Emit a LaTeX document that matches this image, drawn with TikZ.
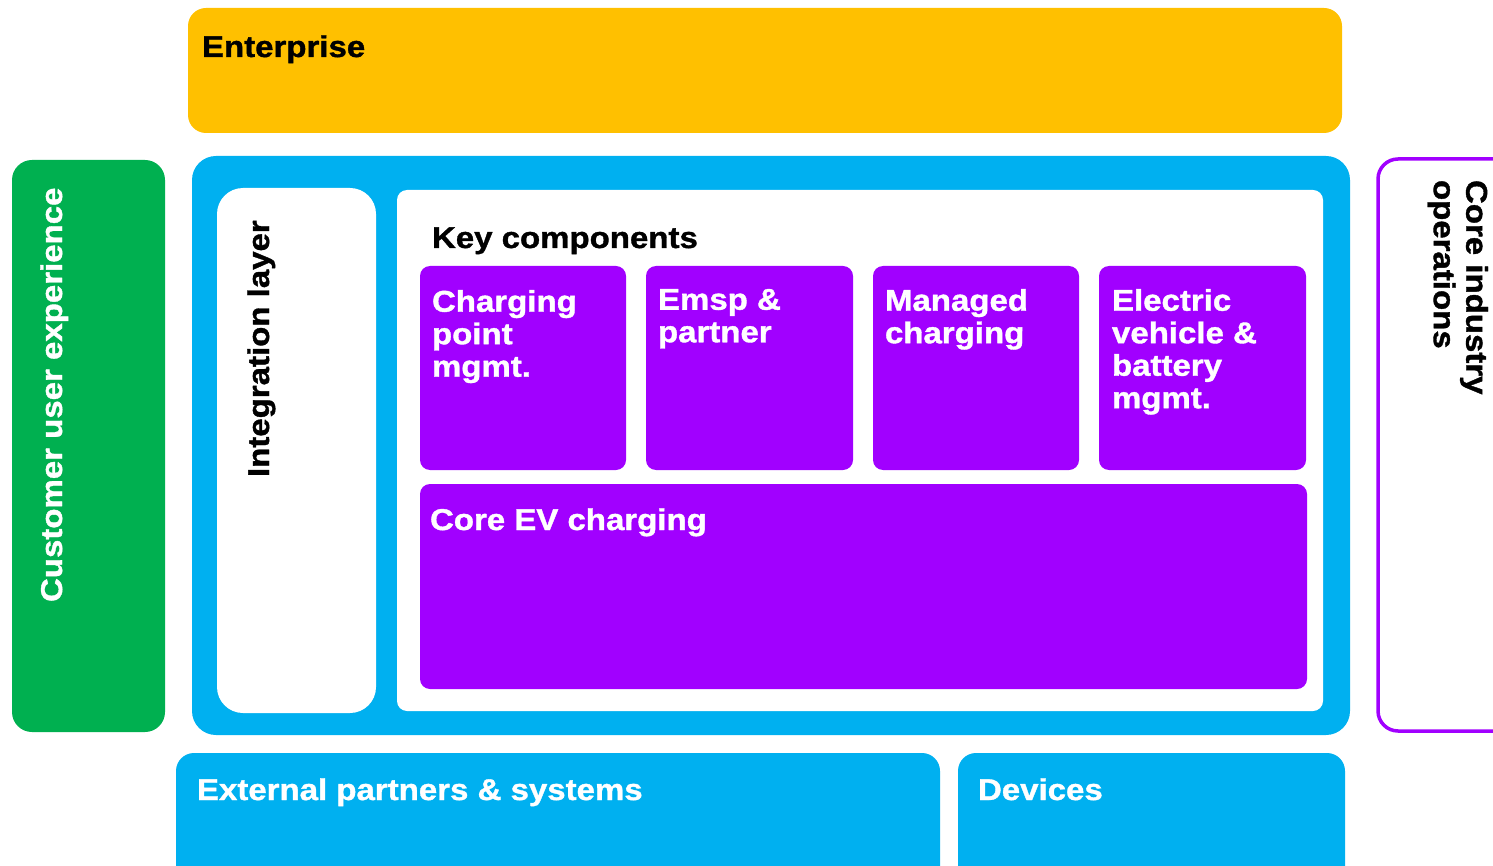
\documentclass[tikz,border=0pt]{standalone}
\usepackage{fontspec}
\setmainfont[FakeStretch=1.1, BoldFeatures={FakeBold=1.2}]{Liberation Sans}
\definecolor{entyellow}{HTML}{FFC000}
\definecolor{skyblue}{HTML}{00B0F0}
\definecolor{cxgreen}{HTML}{00B050}
\definecolor{acnpurple}{HTML}{A100FF}
\begin{document}
\begin{tikzpicture}[x=1pt,y=-1pt,
  lbl/.style={inner sep=0pt, outer sep=0pt, font=\fontsize{30}{32.5}\selectfont\bfseries, align=left},
  wlbl/.style={lbl, text=white},
  blbl/.style={lbl, text=black},
  compbox/.style={fill=acnpurple, rounded corners=10pt}]
\useasboundingbox (0,0) rectangle (1493,866);
\clip (0,0) rectangle (1493,866);
% Enterprise
\fill[entyellow, rounded corners=18pt] (188,8) rectangle (1342,133);
\node[blbl, anchor=base west] (ent) at (202,57) {Enterprise};
% Customer user experience
\fill[cxgreen, rounded corners=20pt] (12,160) rectangle (165,732);
\node[wlbl, rotate=90, anchor=base west] (cux) at (62,602) {Customer user experience};
% big blue
\fill[skyblue, rounded corners=24pt] (192,156) rectangle (1350,735);
% integration layer
\fill[white, rounded corners=26pt] (217,188) rectangle (376,713);
\node[blbl, rotate=90, anchor=base west] (integ) at (269,477) {Integration layer};
% key components
\fill[white, rounded corners=10pt] (397,190) rectangle (1323,711);
\node[blbl, anchor=base west] (keyc) at (432,248) {Key components};
\fill[compbox] (420,266) rectangle (626,470);
\fill[compbox] (646,266) rectangle (853,470);
\fill[compbox] (873,266) rectangle (1079,470);
\fill[compbox] (1099,266) rectangle (1306,470);
\node[wlbl, anchor=north west] (cpm) at (432,290) {Charging\\point\\mgmt.};
\node[wlbl, anchor=north west] (emsp) at (658,289) {Emsp \&\\partner};
\node[wlbl, anchor=north west] (mc) at (885,289) {Managed\\charging};
\node[wlbl, anchor=north west] (evb) at (1112,289) {Electric\\vehicle \&\\battery\\mgmt.};
\fill[compbox] (420,484) rectangle (1307,689);
\node[wlbl, anchor=base west] (core) at (430,530) {Core EV charging};
% core industry operations
\draw[acnpurple, line width=3.5pt, rounded corners=20pt] (1378,159) rectangle (1560,731);
\node[blbl, rotate=-90, anchor=north west] (cio) at (1488,180) {Core industry\\operations};
% bottom
\fill[skyblue, rounded corners=18pt] (176,753) rectangle (940,900);
\node[wlbl, anchor=base west] (ext) at (197,800) {External partners \& systems};
\fill[skyblue, rounded corners=18pt] (958,753) rectangle (1345,900);
\node[wlbl, anchor=base west] (dev) at (978,800) {Devices};
\end{tikzpicture}
\end{document}
